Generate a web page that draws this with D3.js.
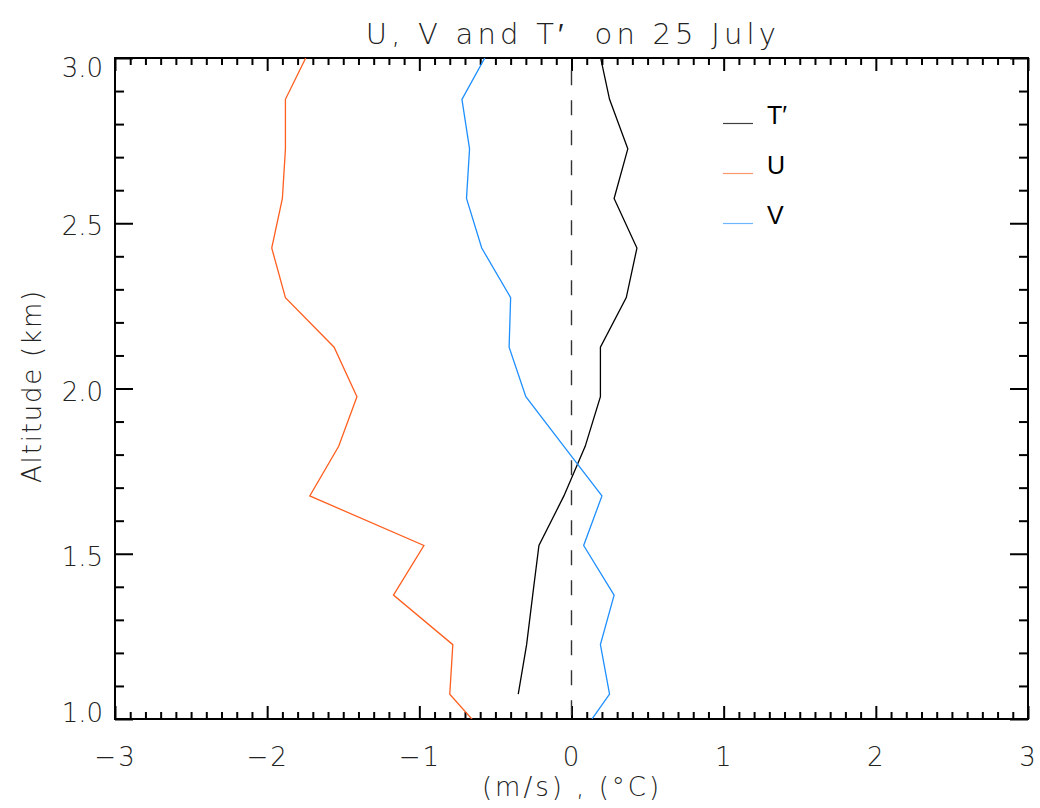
<!DOCTYPE html>
<html>
<head>
<meta charset="utf-8">
<script src="https://cdn.jsdelivr.net/npm/d3@7"></script>
<style>
  html, body { margin: 0; padding: 0; background: #fff; }
  svg text { font-family: "DejaVu Sans", sans-serif; font-weight: 200; fill: #222; white-space: pre; }
  .legend text { font-family: "Liberation Sans", Arial, sans-serif; font-weight: 400; fill: #000; }
</style>
</head>
<body>
<svg id="chart" width="1040" height="808"></svg>
<script>
// Sounding altitudes (km)
const altitude = [0.925, 1.075, 1.225, 1.375, 1.525, 1.675, 1.825, 1.975, 2.125, 2.275, 2.425, 2.575, 2.725, 2.875, 3.025];
// Zonal wind U (m/s)
const uWind = [-0.51, -0.80, -0.78, -1.17, -0.97, -1.72, -1.53, -1.41, -1.56, -1.88, -1.97, -1.90, -1.88, -1.88, -1.72];
// Meridional wind V (m/s)
const vWind = [0.02, 0.25, 0.19, 0.28, 0.08, 0.20, -0.05, -0.30, -0.41, -0.40, -0.59, -0.69, -0.67, -0.72, -0.54];
// Temperature perturbation T' (°C), no value at the lowest level
const tPert = [null, -0.35, -0.295, -0.255, -0.214, -0.05, 0.09, 0.19, 0.19, 0.36, 0.43, 0.28, 0.37, 0.25, 0.18];

const xMajor = [-3, -2, -1, 0, 1, 2, 3];
const yMajor = [1.0, 1.5, 2.0, 2.5, 3.0];

const seriesNames = ["T\u2032", "U", "V"];
const seriesColors = ["#000000", "#FF5F1F", "#1E8FFF"];

const svg = d3.select("#chart");
const plotL = 115, plotR = 1028, plotT = 58, plotB = 719;

const x = d3.scaleLinear().domain([-3, 3]).range([plotL, plotR]);
const y = d3.scaleLinear().domain([1, 3]).range([plotB, plotT]);

const xMinor = d3.range(-30, 31).map(d => d / 10).filter(d => !xMajor.includes(d));
const yMinor = d3.range(10, 31).map(d => d / 10).filter(d => !yMajor.includes(d));

const xMaj = 13, xMin = 7, yMaj = 18, yMin = 9;

function styleAxis(g) {
  g.select(".domain").remove();
  g.selectAll(".tick line").attr("stroke", "#000").attr("stroke-width", 2);
}

// bottom axis
svg.append("g").attr("transform", `translate(0,${plotB})`)
  .call(d3.axisBottom(x).tickValues(xMinor).tickSize(-xMin).tickFormat(""))
  .call(styleAxis);
const gb = svg.append("g").attr("transform", `translate(0,${plotB})`)
  .call(d3.axisBottom(x).tickValues(xMajor).tickSize(-xMaj).tickPadding(24).tickFormat(d3.format("d")))
  .call(styleAxis);
gb.selectAll("text").attr("font-size", 26).attr("dy", "0.88em").attr("fill", "#222")
  .attr("letter-spacing", 2);

// top axis
svg.append("g").attr("transform", `translate(0,${plotT})`)
  .call(d3.axisTop(x).tickValues(xMinor).tickSize(-xMin).tickFormat(""))
  .call(styleAxis);
svg.append("g").attr("transform", `translate(0,${plotT})`)
  .call(d3.axisTop(x).tickValues(xMajor).tickSize(-xMaj).tickFormat(""))
  .call(styleAxis);

// left axis
svg.append("g").attr("transform", `translate(${plotL},0)`)
  .call(d3.axisLeft(y).tickValues(yMinor).tickSize(-yMin).tickFormat(""))
  .call(styleAxis);
const gl = svg.append("g").attr("transform", `translate(${plotL},0)`)
  .call(d3.axisLeft(y).tickValues(yMajor).tickSize(-yMaj).tickPadding(12).tickFormat(d3.format(".1f")))
  .call(styleAxis);
gl.selectAll("text").attr("font-size", 26).attr("fill", "#222")
  .attr("dy", d => d === 3 ? "0.72em" : d === 1 ? "0.1em" : "0.45em");

// right axis
svg.append("g").attr("transform", `translate(${plotR},0)`)
  .call(d3.axisRight(y).tickValues(yMinor).tickSize(-yMin).tickFormat(""))
  .call(styleAxis);
svg.append("g").attr("transform", `translate(${plotR},0)`)
  .call(d3.axisRight(y).tickValues(yMajor).tickSize(-yMaj).tickFormat(""))
  .call(styleAxis);

// frame
svg.append("rect")
  .attr("x", plotL).attr("y", plotT)
  .attr("width", plotR - plotL).attr("height", plotB - plotT)
  .attr("fill", "none").attr("stroke", "#000").attr("stroke-width", 2);

// clip region for profiles
svg.append("clipPath").attr("id", "plot-clip")
  .append("rect").attr("x", plotL).attr("y", plotT)
  .attr("width", plotR - plotL).attr("height", plotB - plotT);

const plot = svg.append("g").attr("clip-path", "url(#plot-clip)");

// zero reference line
plot.append("line")
  .attr("x1", x(0)).attr("x2", x(0))
  .attr("y1", y(3)).attr("y2", y(1))
  .attr("stroke", "#333").attr("stroke-width", 1.4)
  .attr("stroke-dasharray", "15,15").attr("stroke-dashoffset", 17.7);

function profile(values) {
  return d3.line()
    .defined((d, i) => values[i] !== null)
    .x((d, i) => x(values[i]))
    .y(d => y(d))(altitude);
}

[tPert, uWind, vWind].forEach((vals, i) => {
  plot.append("path")
    .attr("d", profile(vals))
    .attr("fill", "none")
    .attr("stroke", seriesColors[i])
    .attr("stroke-width", 1.3)
    .attr("stroke-linejoin", "miter");
});

// legend
const legend = svg.append("g").attr("class", "legend");
seriesNames.forEach((name, i) => {
  const ly = 123.5 + i * 50;
  legend.append("line")
    .attr("x1", 723).attr("x2", 753).attr("y1", ly).attr("y2", ly)
    .attr("stroke", seriesColors[i]).attr("stroke-width", 1.2)
    .attr("stroke-opacity", i === 0 ? 0.75 : 0.65);
  legend.append("text")
    .attr("x", 767).attr("y", ly)
    .attr("font-size", 25)
    .text(name);
});

// titles
svg.append("text")
  .attr("x", 573).attr("y", 44)
  .attr("text-anchor", "middle")
  .attr("font-size", 29)
  .attr("letter-spacing", 4.2)
  .text("U, V and T\u2032  on 25 July");

svg.append("text")
  .attr("x", 572).attr("y", 796)
  .attr("text-anchor", "middle")
  .attr("font-size", 26)
  .attr("letter-spacing", 3)
  .text("(m/s) , (\u00B0C)");

svg.append("text")
  .attr("transform", "translate(41,386) rotate(-90)")
  .attr("text-anchor", "middle")
  .attr("font-size", 26)
  .attr("letter-spacing", 1.8)
  .text("Altitude (km)");
</script>
</body>
</html>
